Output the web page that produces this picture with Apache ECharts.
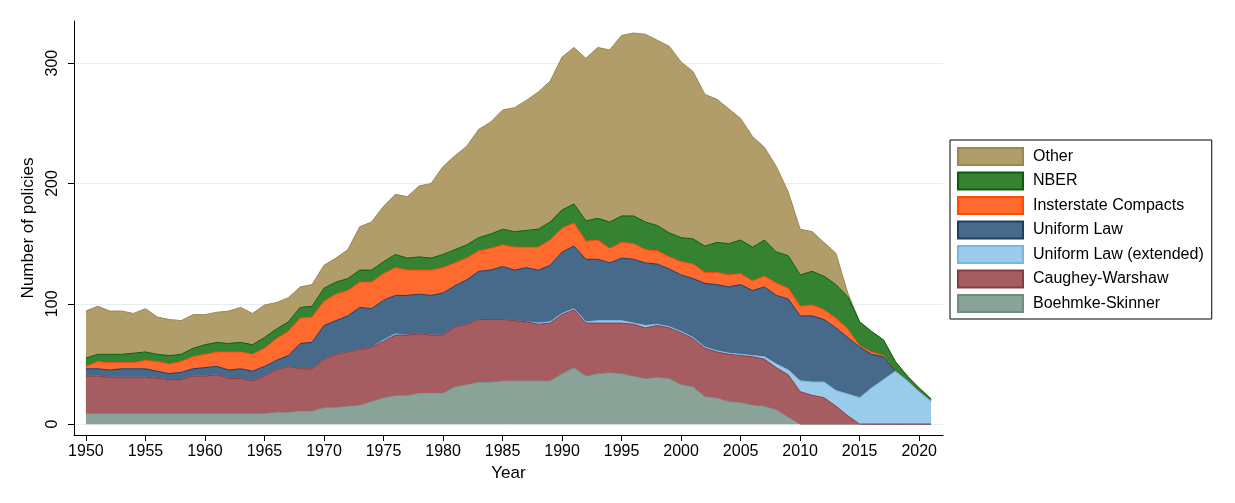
<!DOCTYPE html>
<html>
<head>
<meta charset="utf-8">
<script src="https://cdn.jsdelivr.net/npm/echarts@6/dist/echarts.min.js"></script>
<style>
  html, body { margin: 0; padding: 0; background: #fff; }
  #main { width: 1235px; height: 503px; }
</style>
</head>
<body>
<div id="main"></div>
<script>
// data (policies per year, per source), 1950..2021
var years = [];
for (var y = 1950; y <= 2021; y++) years.push(y);

var boehmke = [9,9,9,9,9,9,9,9,9,9, 9,9,9,9,9,9,10,10,11,11,
  14,14,15,16,19,22,24,24,26,26, 26,31,33,35,35,36,36,36,36,36,
  42,47,40,42,43,42,40,38,39,38, 33,31,23,22,19,18,16,15,12,6,
  0,0,0,0,0,0,0,0,0,0, 0,0];
var caughey = [31,31,30,30,30,30,29,28,28,31, 31,32,29,29,27,31,35,38,35,35,
  40,44,45,46,45,47,50,50,49,48, 48,50,50,52,52,51,50,49,47,48,
  49,48,44,42,41,42,43,42,43,42, 43,40,40,38,39,39,40,39,35,35,
  27,24,22,15,7,0,0,0,0,0, 0,0];
var uniformExt = [0,0,0,0,0,0,0,0,0,0, 0,0,0,0,0,0,0,0,0,0,
  0,0,0,0,0,1,1,0,0,0, 0,0,0,0,0,0,0,0,1,1,
  1,1,1,2,2,2,1,2,1,1, 1,1,1,1,1,1,1,2,3,4,
  9,11,13,13,18,22,30,37,44,36, 27,19];
var uniformLaw = [6,6,6,7,7,7,6,5,6,6, 7,7,7,8,8,8,8,9,21,22,
  28,28,30,35,32,33,32,33,33,33, 35,34,37,40,41,44,42,45,44,47,
  51,52,52,51,48,52,53,52,50,48, 47,49,53,55,55,58,54,58,57,59,
  54,55,52,52,47,42,28,19,0,0, 0,0];
var compacts = [2,6,6,5,5,7,8,8,9,10, 11,12,15,14,14,15,18,20,21,21,
  20,22,21,21,22,22,23,21,20,21, 21,19,18,17,18,18,19,17,19,21,
  20,19,15,16,12,13,13,11,11,10, 11,12,9,10,10,9,8,9,10,9,
  8,9,8,8,7,1,2,1,0,0, 0,0];
var nber = [7,6,7,7,8,7,6,7,6,7, 8,8,7,8,8,9,8,8,9,9,
  11,10,10,10,10,10,11,10,11,10, 11,11,11,11,12,13,13,14,15,15,
  15,16,17,18,22,22,23,23,21,20, 20,21,22,25,26,28,28,30,26,27,
  26,28,28,28,27,20,17,13,8,4, 3,2];
var other = [39,40,36,36,33,36,31,30,28,28, 25,25,27,29,26,27,22,20,17,18,
  19,20,24,36,40,46,50,51,59,62, 73,78,82,90,93,99,103,108,114,117,
  127,130,135,142,143,150,152,156,154,155, 146,139,126,119,112,101,92,77,71,53,
  38,33,28,26,3,0,0,0,0,0, 0,0];

var yTicks = [0, 100, 200, 300];

var font = 'Arial, "Liberation Sans", sans-serif';

// axis runs one empty year past each end of the data
var cats = ['1949'].concat(years.map(String), ['2022']);

// bottom to top of the stack
var layers = [
  {name: 'Boehmke-Skinner',        vals: boehmke,    fill: '#8aa398', line: '#6f8d80', z: 7},
  {name: 'Caughey-Warshaw',        vals: caughey,    fill: '#a55d62', line: '#8a3a44', z: 8},
  {name: 'Uniform Law (extended)', vals: uniformExt, fill: '#9acbea', line: '#78b6e2', z: 6},
  {name: 'Uniform Law',            vals: uniformLaw, fill: '#476a8b', line: '#1d3e62', z: 5},
  {name: 'Insterstate Compacts',   vals: compacts,   fill: '#ff6a2e', line: '#ff4a00', z: 4},
  {name: 'NBER',                   vals: nber,       fill: '#358232', line: '#0b5e0b', z: 3},
  {name: 'Other',                  vals: other,      fill: '#b09d6a', line: '#9a8752', z: 2}
];

var chart = echarts.init(document.getElementById('main'));

var series = layers.map(function (l) {
  return {
    name: l.name,
    type: 'line',
    stack: 'total',
    z: l.z,
    symbol: 'none',
    showSymbol: false,
    itemStyle: {color: l.fill},
    lineStyle: {color: l.line, width: 1},
    areaStyle: {color: l.fill, opacity: 1},
    data: ['-'].concat(l.vals, ['-'])
  };
});

var legendData = layers.slice().reverse().map(function (l) {
  return {name: l.name, itemStyle: {color: l.fill, borderColor: l.line, borderWidth: 2}};
});

function fiveYear(idx, val) { return Number(val) % 5 === 0; }

var option = {
  animation: false,
  backgroundColor: '#fff',
  grid: {left: 74, right: 292, top: 21, bottom: 68, containLabel: false},
  legend: {
    orient: 'vertical',
    left: 950,
    top: 140,
    itemWidth: 65,
    itemHeight: 17,
    itemGap: 5.5,
    padding: [7, 8, 6, 7],
    borderColor: '#000',
    borderWidth: 1,
    icon: 'rect',
    selectedMode: false,
    textStyle: {fontSize: 16, color: '#000', fontFamily: font, padding: [0, 0, 0, 5]},
    data: legendData
  },
  xAxis: {
    type: 'category',
    data: cats,
    boundaryGap: false,
    name: 'Year',
    nameLocation: 'middle',
    nameGap: 29,
    nameTextStyle: {fontSize: 17, color: '#000', fontFamily: font},
    axisLine: {show: true, onZero: false, lineStyle: {color: '#000', width: 1}},
    axisTick: {show: true, length: 6, interval: fiveYear, lineStyle: {color: '#000'}},
    axisLabel: {interval: fiveYear, margin: 9, fontSize: 16, color: '#000', fontFamily: font},
    splitLine: {show: false}
  },
  yAxis: {
    type: 'value',
    min: -9,
    max: 335,
    name: 'Number of policies',
    nameLocation: 'middle',
    nameRotate: 90,
    nameGap: 31,
    nameTextStyle: {fontSize: 17, color: '#000', fontFamily: font},
    axisLine: {show: true, lineStyle: {color: '#000', width: 1}},
    axisTick: {show: true, length: 6, customValues: yTicks, lineStyle: {color: '#000'}},
    axisLabel: {
      customValues: yTicks, rotate: 90, margin: 13, fontSize: 16, color: '#000', fontFamily: font,
      formatter: function (v) { return String(v); }
    },
    splitLine: {show: true, lineStyle: {color: '#e6eff1', width: 1}}
  },
  series: series
};

chart.setOption(option);
</script>
</body>
</html>
